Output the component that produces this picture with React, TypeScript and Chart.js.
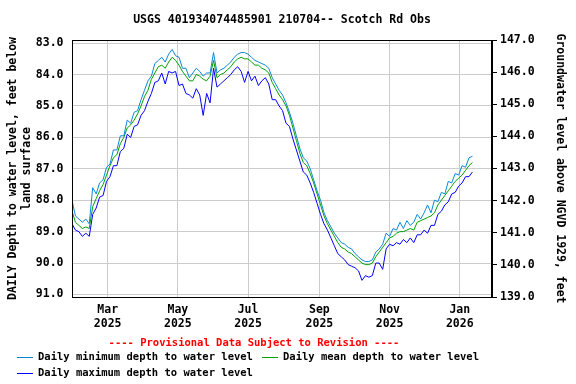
import React, { useEffect, useRef } from "react";
import { Chart, registerables } from "chart.js";

Chart.register(...registerables);

// Day-of-year 2025 (Jan 1 = 0), sampled every 3 days starting Jan 29 2025
const startDay = 28;
const stepDays = 3;

const minDepth = [
  88.0, 88.5, 88.6, 88.7, 88.6, 88.75, 87.6, 87.8, 87.45, 87.35,
  86.95, 86.85, 86.4, 86.4, 85.95, 85.95, 85.45, 85.55, 85.2, 85.15,
  84.8, 84.5, 84.2, 84.05, 83.65, 83.55, 83.45, 83.6, 83.35, 83.2,
  83.4, 83.45, 83.8, 83.8, 84.1, 83.95, 83.8, 83.9, 84.05, 83.95,
  83.95, 83.3, 83.95, 83.85, 83.8, 83.7, 83.6, 83.45, 83.35, 83.3,
  83.3, 83.35, 83.45, 83.55, 83.6, 83.65, 83.7, 83.8, 84.1, 84.3,
  84.5, 84.65, 84.9, 85.2, 85.55, 85.95, 86.35, 86.65, 86.75, 87.0,
  87.35, 87.7, 88.0, 88.4, 88.65, 88.85, 89.05, 89.2, 89.35, 89.4,
  89.5, 89.55, 89.7, 89.8, 89.9, 89.95, 89.95, 89.9, 89.65, 89.55,
  89.4, 89.05, 89.15, 88.9, 88.95, 88.7, 88.9, 88.65, 88.8, 88.7,
  88.45, 88.6, 88.4, 88.15, 88.4, 88.0, 88.05, 87.75, 87.8, 87.4,
  87.45, 87.15, 87.2, 86.9, 86.95, 86.65, 86.6,
];

const meanDepth = [
  88.35, 88.7, 88.8, 88.9, 88.85, 88.9, 88.2, 87.95, 87.7, 87.5,
  87.2, 86.9, 86.65, 86.55, 86.2, 86.0, 85.7, 85.6, 85.45, 85.25,
  85.0, 84.7, 84.5, 84.15, 83.95, 83.75, 83.7, 83.8, 83.6, 83.45,
  83.55, 83.7, 83.9, 84.05, 84.2, 84.2, 84.0, 84.05, 84.15, 84.2,
  84.05, 83.55, 84.1, 84.0, 83.95, 83.85, 83.75, 83.6, 83.5, 83.45,
  83.5, 83.5, 83.6, 83.7, 83.7, 83.8, 83.85, 83.95, 84.25, 84.45,
  84.65, 84.8, 85.0, 85.3, 85.7, 86.1, 86.5, 86.8, 86.9, 87.15,
  87.45, 87.8, 88.15, 88.5, 88.75, 88.95, 89.15, 89.35, 89.5, 89.55,
  89.65, 89.7, 89.8, 89.9, 90.0, 90.05, 90.05, 90.0, 89.8, 89.65,
  89.5, 89.35, 89.2, 89.15, 89.05, 89.0, 89.0, 88.95, 88.9, 88.95,
  88.7, 88.65, 88.6, 88.55, 88.5, 88.4, 88.15, 88.0, 87.85, 87.7,
  87.55, 87.4, 87.3, 87.2, 87.05, 86.9, 86.8,
];

const maxDepth = [
  88.75, 88.95, 89.0, 89.15, 89.05, 89.15, 88.45, 88.25, 87.9, 87.85,
  87.4, 87.25, 86.9, 86.9, 86.45, 86.35, 85.9, 86.0, 85.65, 85.6,
  85.3, 85.15, 84.85, 84.6, 84.25, 84.2, 83.95, 84.3, 83.9, 83.95,
  83.9, 84.35, 84.3, 84.6, 84.65, 84.75, 84.45, 84.65, 85.3, 84.6,
  84.9, 83.8, 84.4, 84.3, 84.2, 84.1, 84.0, 83.85, 83.75, 83.9,
  84.25, 83.9, 84.2, 84.05, 84.35, 84.2, 84.1, 84.3, 84.8, 84.8,
  85.0, 85.15, 85.55, 85.65, 86.05, 86.4, 86.75, 87.1, 87.2, 87.45,
  87.75, 88.1, 88.45, 88.75, 88.95, 89.2, 89.45, 89.7, 89.8, 89.9,
  90.05, 90.1, 90.15, 90.25, 90.55, 90.4, 90.45, 90.4, 90.0, 90.0,
  90.2, 89.55, 89.4, 89.45, 89.35, 89.4, 89.25, 89.35, 89.2, 89.35,
  89.1, 89.1, 88.95, 89.05, 88.8, 88.8, 88.45, 88.35, 88.15, 88.05,
  87.8, 87.75, 87.55, 87.45, 87.25, 87.25, 87.1,
];

const xTickDays = [59, 120, 181, 243, 304, 365];
const xTickLabels = [
  ["Mar", "2025"],
  ["May", "2025"],
  ["Jul", "2025"],
  ["Sep", "2025"],
  ["Nov", "2025"],
  ["Jan", "2026"],
];
const leftTicks = [83, 84, 85, 86, 87, 88, 89, 90, 91];
const rightTicks = [139, 140, 141, 142, 143, 144, 145, 146, 147];

const titleText = "USGS 401934074485901 210704-- Scotch Rd Obs";
const leftTitle = ["DAILY Depth to water level, feet below", "land surface"];
const rightTitle = "Groundwater level above NGVD 1929, feet";
const provisionalText = "---- Provisional Data Subject to Revision ----";
const seriesNames = [
  "Daily minimum depth to water level",
  "Daily mean depth to water level",
  "Daily maximum depth to water level",
];
const seriesColors = ["#0a88d8", "#00a000", "#0000ff"];

const FONT = "'DejaVu Sans Mono', monospace";

export default function App() {
  const canvasRef = useRef<HTMLCanvasElement | null>(null);

  useEffect(() => {
    document.body.style.margin = "0";
    const canvas = canvasRef.current;
    if (!canvas) return;
    const days = meanDepth.map((_, i) => startDay + i * stepDays);
    const toPts = (arr: number[]) => arr.map((v, i) => ({ x: days[i], y: v }));

    const decor = {
      id: "decor",
      afterDraw(chart: any) {
        const { ctx, chartArea } = chart;
        ctx.save();
        // frame
        ctx.strokeStyle = "#000";
        ctx.lineWidth = 1;
        ctx.strokeRect(
          Math.round(chartArea.left) + 0.5,
          Math.round(chartArea.top) + 0.5,
          Math.round(chartArea.right - chartArea.left) - 1,
          Math.round(chartArea.bottom - chartArea.top)
        );
        // title
        ctx.fillStyle = "#000";
        ctx.font = `bold 11.5px ${FONT}`;
        ctx.textAlign = "center";
        ctx.textBaseline = "middle";
        ctx.fillText(titleText, (chartArea.left + chartArea.right) / 2, 20);
        // provisional
        ctx.font = `bold 10.5px ${FONT}`;
        ctx.fillStyle = "#ff0000";
        ctx.fillText(provisionalText, 254, 343);
        // legend
        ctx.textAlign = "left";
        const items = [
          { x: 17, y: 357 },
          { x: 262, y: 357 },
          { x: 17, y: 373 },
        ];
        items.forEach((p, i) => {
          ctx.strokeStyle = seriesColors[i];
          ctx.lineWidth = 1;
          ctx.beginPath();
          ctx.moveTo(p.x, p.y + 0.5);
          ctx.lineTo(p.x + 16, p.y + 0.5);
          ctx.stroke();
          ctx.fillStyle = "#000";
          ctx.fillText(seriesNames[i], p.x + 21, p.y);
        });
        ctx.restore();
      },
    };

    const chart = new Chart(canvas, {
      type: "line",
      data: {
        datasets: [
          { label: seriesNames[0], data: toPts(minDepth), borderColor: seriesColors[0], borderWidth: 1, pointRadius: 0, tension: 0, yAxisID: "y" },
          { label: seriesNames[1], data: toPts(meanDepth), borderColor: seriesColors[1], borderWidth: 1, pointRadius: 0, tension: 0, yAxisID: "y" },
          { label: seriesNames[2], data: toPts(maxDepth), borderColor: seriesColors[2], borderWidth: 1, pointRadius: 0, tension: 0, yAxisID: "y" },
        ],
      },
      options: {
        animation: false,
        responsive: false,
        maintainAspectRatio: false,
        layout: { padding: { top: 40, left: 0, right: 0, bottom: 0 } },
        plugins: {
          legend: { display: false },
          title: { display: false },
          tooltip: { enabled: false },
        },
        scales: {
          x: {
            type: "linear",
            min: 28,
            max: 393,
            afterBuildTicks: (s: any) => {
              s.ticks = xTickDays.map((v) => ({ value: v }));
            },
            afterFit: (s: any) => {
              s.height = 87;
            },
            ticks: {
              autoSkip: false,
              maxRotation: 0,
              padding: 6,
              color: "#000",
              font: { family: FONT, size: 11.5, weight: "bold" },
              callback: (v: any) => {
                const i = xTickDays.indexOf(Number(v));
                return i >= 0 ? xTickLabels[i] : "";
              },
            },
            grid: { color: "#cccccc", drawTicks: false, lineWidth: 1 },
            border: { display: true, color: "#000" },
          },
          y: {
            position: "left",
            reverse: true,
            min: 82.9,
            max: 91.08,
            afterBuildTicks: (s: any) => {
              s.ticks = leftTicks.map((v) => ({ value: v }));
            },
            afterFit: (s: any) => {
              s.width = 72;
            },
            ticks: {
              padding: 8.5,
              color: "#000",
              font: { family: FONT, size: 11.5, weight: "bold" },
              callback: (v: any) => Number(v).toFixed(1),
            },
            grid: { color: "#cccccc", drawTicks: false, lineWidth: 1 },
            border: { display: true, color: "#000" },
            title: {
              display: true,
              text: leftTitle,
              color: "#000",
              padding: { top: 6, bottom: 0 },
              font: { family: FONT, size: 11.5, weight: "bold", lineHeight: 1.2 },
            },
          },
          y2: {
            position: "right",
            min: 139,
            max: 147,
            afterBuildTicks: (s: any) => {
              s.ticks = rightTicks.map((v) => ({ value: v }));
            },
            afterFit: (s: any) => {
              s.width = 84;
            },
            ticks: {
              padding: 3,
              color: "#000",
              font: { family: FONT, size: 11.5, weight: "bold" },
              callback: (v: any) => Number(v).toFixed(1),
            },
            grid: { drawOnChartArea: false, drawTicks: true, tickLength: 5, tickColor: "#000" },
            border: { display: true, color: "#000" },
            title: {
              display: true,
              text: rightTitle,
              color: "#000",
              padding: { top: 9, bottom: 0 },
              font: { family: FONT, size: 11.5, weight: "bold", lineHeight: 1.2 },
            },
          },
        },
      },
      plugins: [decor],
    } as any);

    return () => chart.destroy();
  }, []);

  return (
    <div style={{ width: 576, height: 384 }}>
      <canvas ref={canvasRef} width={576} height={384} style={{ display: "block", width: 576, height: 384 }} />
    </div>
  );
}
